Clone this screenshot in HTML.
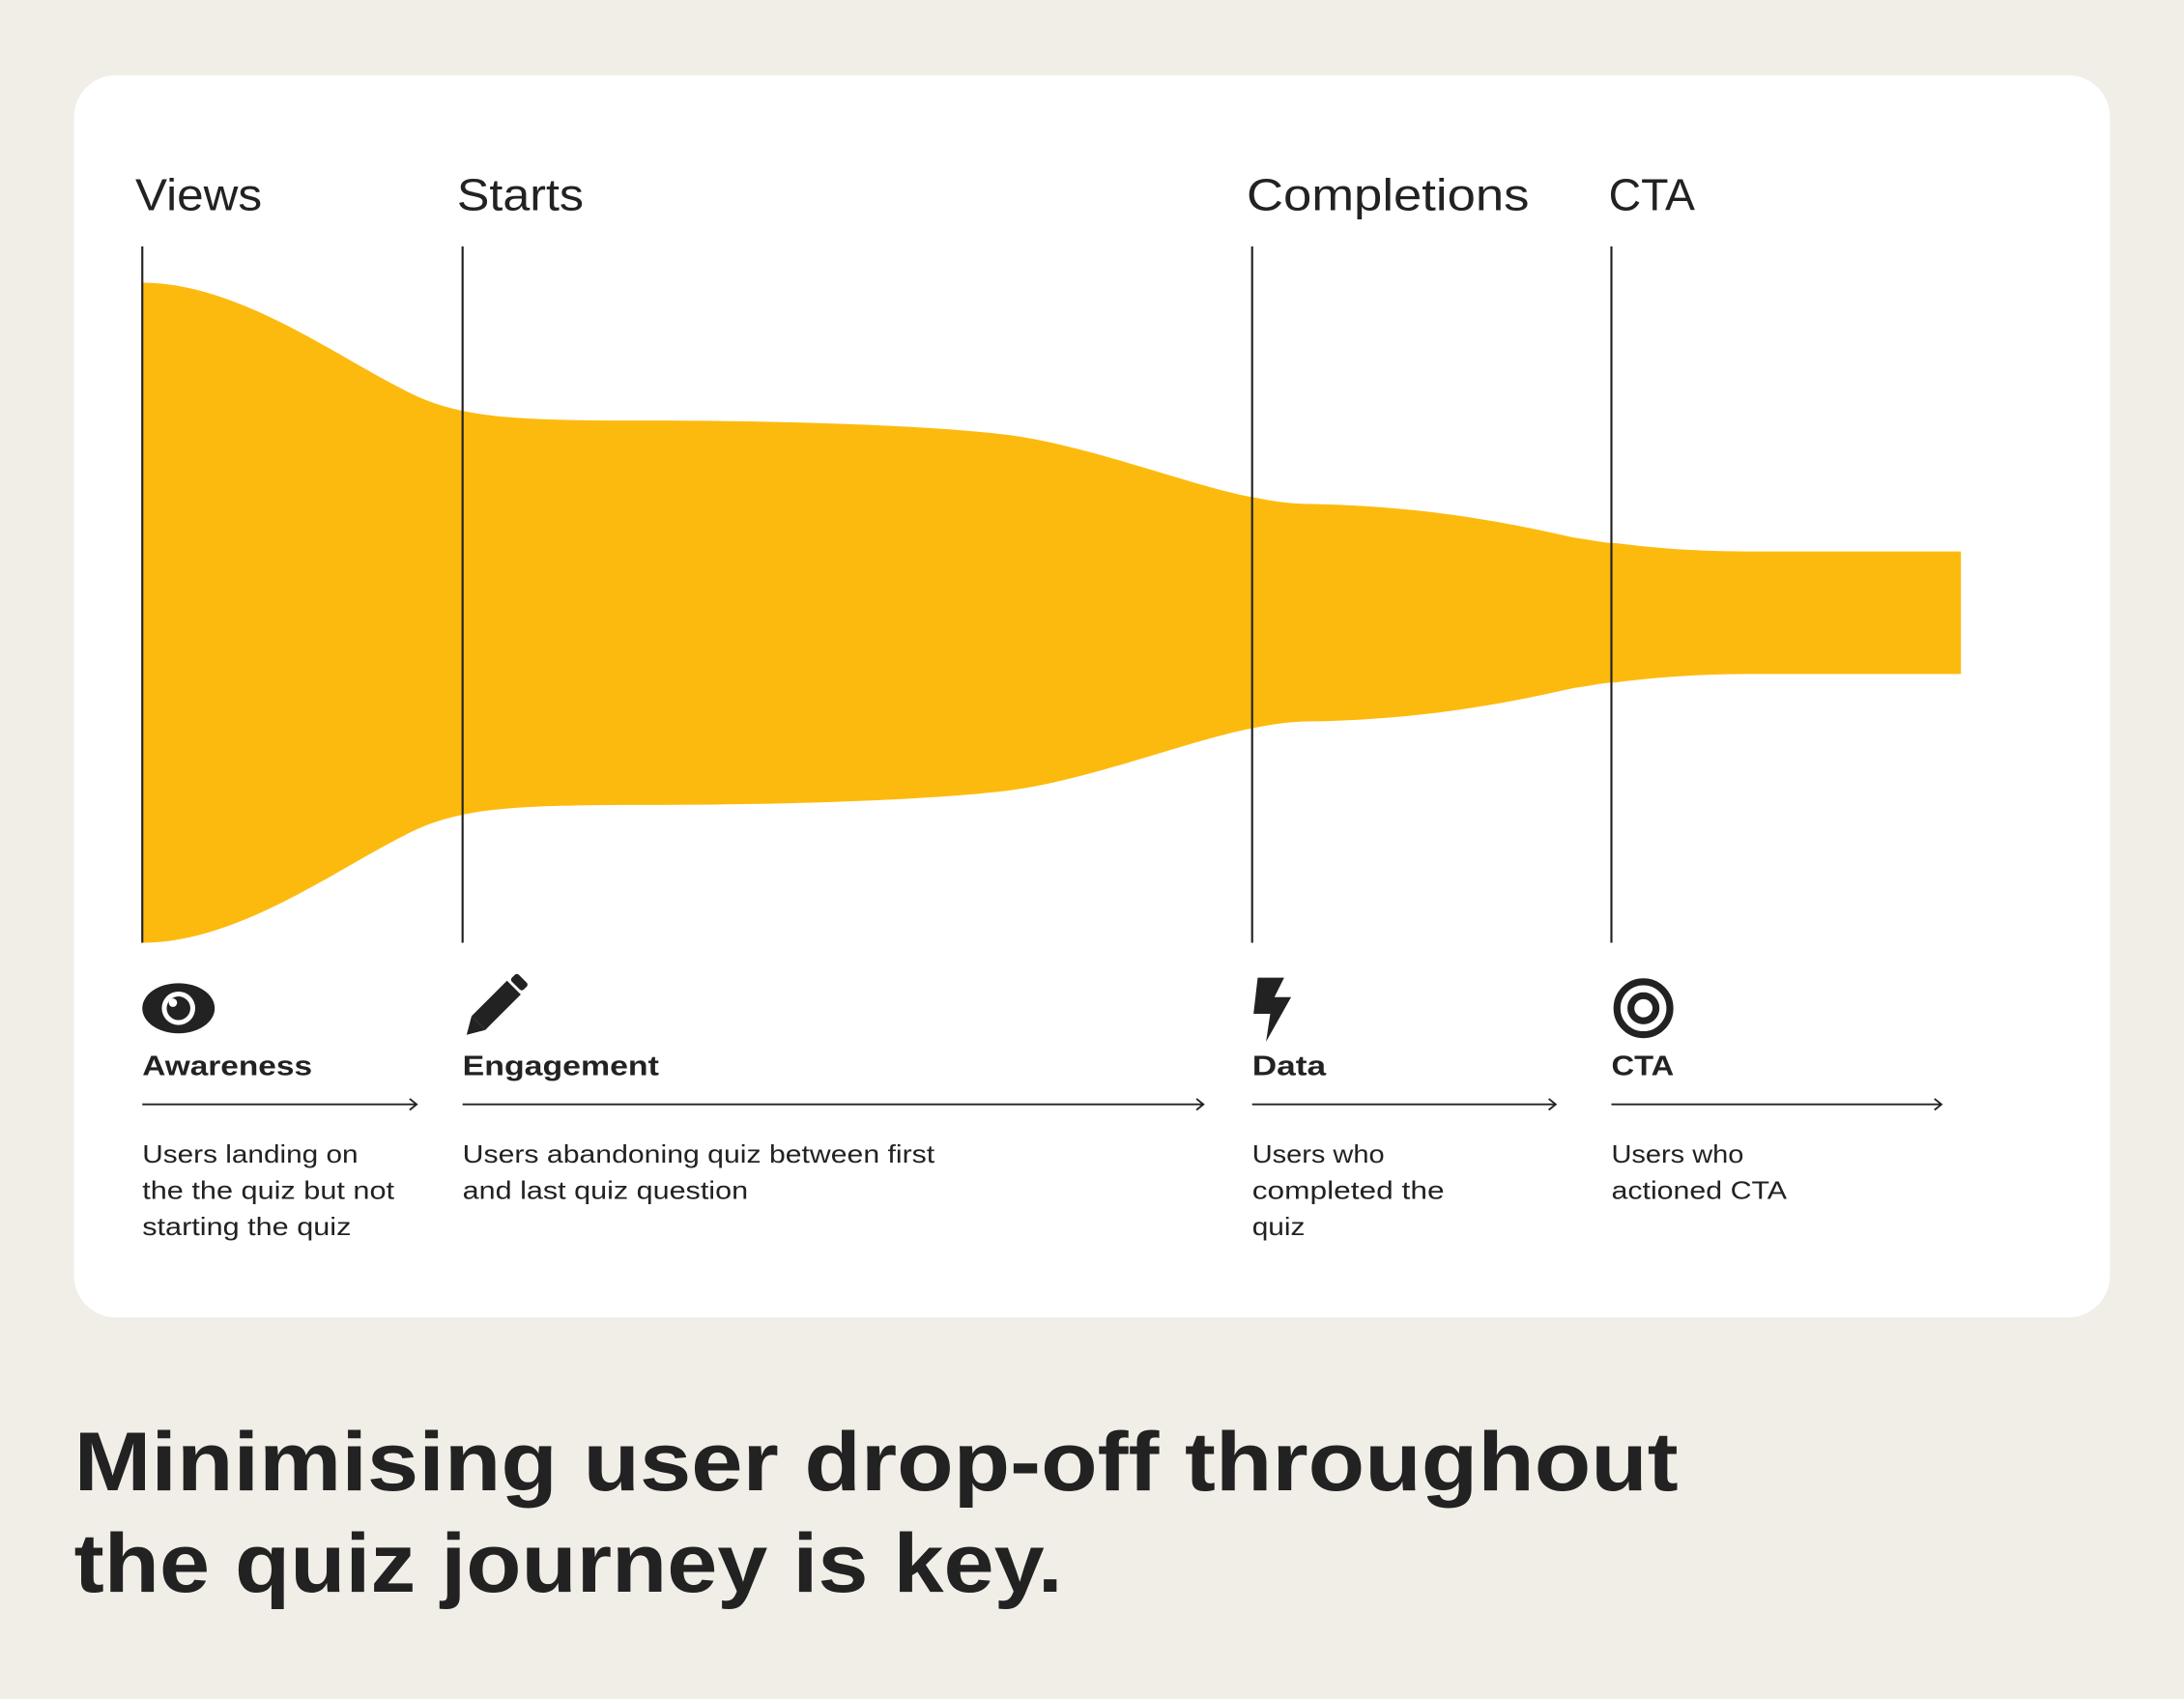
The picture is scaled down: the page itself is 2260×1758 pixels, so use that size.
<!DOCTYPE html>
<html><head><meta charset="utf-8"><style>
html,body{margin:0;padding:0;background:#f1eee8;}
svg{display:block}
text{font-family:"Liberation Sans",sans-serif;fill:#222}
</style></head><body>
<svg width="2260" height="1758" viewBox="0 0 1568 1220" xmlns="http://www.w3.org/2000/svg">
<rect x="0" y="0" width="1568" height="1220" fill="#f1eee8"/>
<rect x="53" y="54" width="1462" height="892" rx="30" fill="#ffffff"/>
<path fill="#fdba0e" d="M102,203 C170,203 240,255 290,280 C305,288 318,292 332,295 C360,301 400,302 460,302 C600,302 700,308 735,314 C790,323 860,350 899,357 C915,360 925,362 945,362 C1030,364 1090,377 1130,386 C1145,388 1152,390 1160,390 C1200,395 1230,396 1260,396 L1408,396 L1408,484 L1260,484 C1230,484 1200,485 1160,490 C1152,490 1145,492 1130,494 C1090,503 1030,516 945,518 C925,518 915,520 899,523 C860,530 790,557 735,566 C700,572 600,578 460,578 C400,578 360,579 332,585 C318,588 305,592 290,600 C240,625 170,677 102,677 Z"/>
<g stroke="#222" stroke-width="1.5">
<line x1="102" y1="177" x2="102" y2="677"/>
<line x1="332" y1="177" x2="332" y2="677"/>
<line x1="899" y1="177" x2="899" y2="677"/>
<line x1="1157" y1="177" x2="1157" y2="677"/>
</g>
<g font-size="32" font-weight="300" lengthAdjust="spacingAndGlyphs">
<text x="97" y="151" textLength="91" lengthAdjust="spacingAndGlyphs">Views</text>
<text x="328" y="151" textLength="91" lengthAdjust="spacingAndGlyphs">Starts</text>
<text x="895" y="151" textLength="203" lengthAdjust="spacingAndGlyphs">Completions</text>
<text x="1155" y="151" textLength="62" lengthAdjust="spacingAndGlyphs">CTA</text>
</g>
<ellipse cx="128" cy="724" rx="26" ry="18" fill="#222"/>
<circle cx="128" cy="724" r="12" fill="#fff"/>
<circle cx="128" cy="724" r="8.5" fill="#222"/>
<circle cx="124" cy="720" r="3" fill="#fff"/>
<g transform="translate(354,724) rotate(45)">
<rect x="-6" y="-30" width="12" height="7" rx="2" fill="#222"/>
<rect x="-7" y="-21" width="14" height="36" fill="#222"/>
<polygon points="-7,15 7,15 0,27" fill="#222"/>
</g>
<polygon points="903,702 922,702 915,716 927,716 909,748 912,728 900,728" fill="#222"/>
<circle cx="1180" cy="724" r="19" fill="none" stroke="#222" stroke-width="5"/>
<circle cx="1180" cy="724" r="9" fill="none" stroke="#222" stroke-width="5"/>
<g font-size="20" font-weight="bold">
<text x="102" y="772" textLength="122" lengthAdjust="spacingAndGlyphs">Awareness</text>
<text x="332" y="772" textLength="141" lengthAdjust="spacingAndGlyphs">Engagement</text>
<text x="899" y="772" textLength="53" lengthAdjust="spacingAndGlyphs">Data</text>
<text x="1157" y="772" textLength="45" lengthAdjust="spacingAndGlyphs">CTA</text>
</g>
<g stroke="#222" stroke-width="1.3" fill="none">
<line x1="102" y1="793" x2="299" y2="793"/><polyline points="294,789 299,793 294,797"/>
<line x1="332" y1="793" x2="864" y2="793"/><polyline points="859,789 864,793 859,797"/>
<line x1="899" y1="793" x2="1117" y2="793"/><polyline points="1112,789 1117,793 1112,797"/>
<line x1="1157" y1="793" x2="1394" y2="793"/><polyline points="1389,789 1394,793 1389,797"/>
</g>
<g font-size="18" font-weight="300">
<text x="102" y="835" textLength="155" lengthAdjust="spacingAndGlyphs">Users landing on</text>
<text x="102" y="861" textLength="181" lengthAdjust="spacingAndGlyphs">the the quiz but not</text>
<text x="102" y="887" textLength="150" lengthAdjust="spacingAndGlyphs">starting the quiz</text>
<text x="332" y="835" textLength="339" lengthAdjust="spacingAndGlyphs">Users abandoning quiz between first</text>
<text x="332" y="861" textLength="205" lengthAdjust="spacingAndGlyphs">and last quiz question</text>
<text x="899" y="835" textLength="95" lengthAdjust="spacingAndGlyphs">Users who</text>
<text x="899" y="861" textLength="138" lengthAdjust="spacingAndGlyphs">completed the</text>
<text x="899" y="887" textLength="38" lengthAdjust="spacingAndGlyphs">quiz</text>
<text x="1157" y="835" textLength="95" lengthAdjust="spacingAndGlyphs">Users who</text>
<text x="1157" y="861" textLength="126" lengthAdjust="spacingAndGlyphs">actioned CTA</text>
</g>
<g font-size="60" font-weight="bold">
<text x="53" y="1070" textLength="1152" lengthAdjust="spacingAndGlyphs">Minimising user drop-off throughout</text>
<text x="53" y="1143" textLength="710" lengthAdjust="spacingAndGlyphs">the quiz journey is key.</text>
</g>
</svg>
</body></html>
